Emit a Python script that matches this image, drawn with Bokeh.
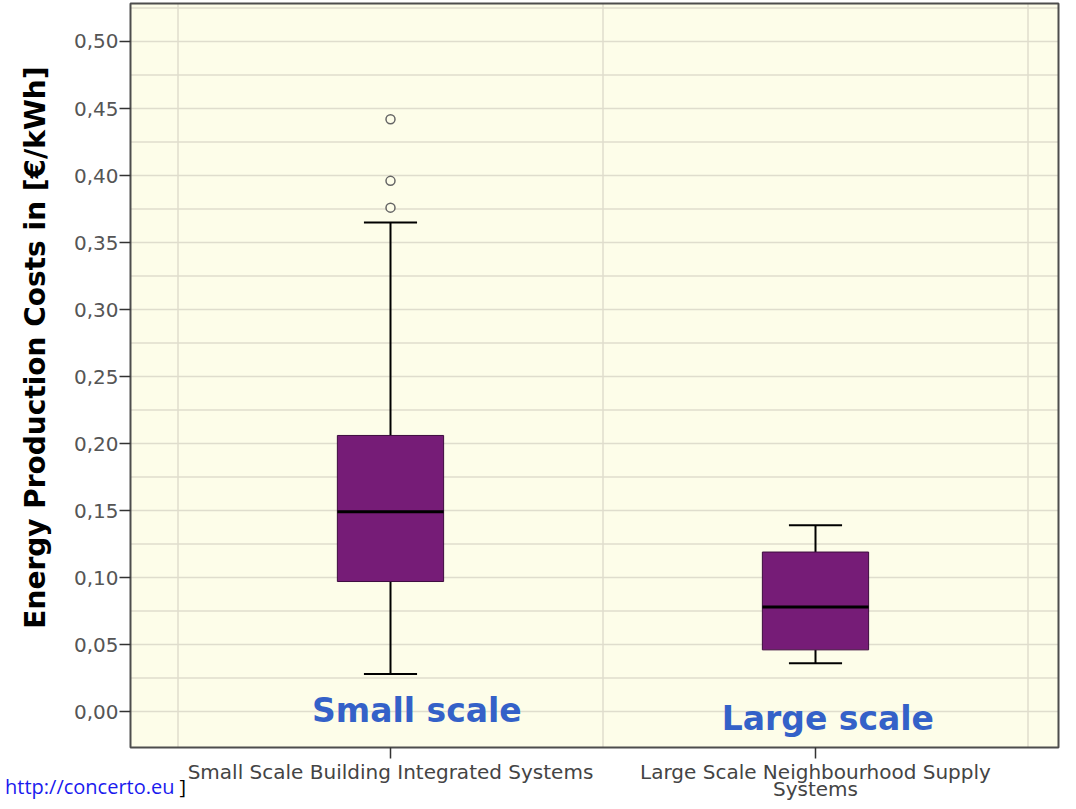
import numpy as np
from bokeh.plotting import figure
from bokeh.models import Range1d, FixedTicker, Label
from bokeh.embed import file_html
from bokeh.resources import INLINE
from math import pi

# ---- data ----
categories = ["Small Scale Building Integrated Systems",
              "Large Scale Neighbourhood Supply Systems"]
cat_line1 = ["Small Scale Building Integrated Systems", "Large Scale Neighbourhood Supply"]
cat_line2 = ["", "Systems"]
cat_pos = [0, 1]
q1 = [0.097, 0.046]
median = [0.149, 0.078]
q3 = [0.206, 0.119]
whisk_low = [0.028, 0.036]
whisk_high = [0.365, 0.139]
outlier_cat = [0, 0, 0]
outlier_val = [0.442, 0.396, 0.376]
y_ticks = [0.0, 0.05, 0.10, 0.15, 0.20, 0.25, 0.30, 0.35, 0.40, 0.45, 0.50]
y_tick_labels = ["0,00", "0,05", "0,10", "0,15", "0,20", "0,25",
                 "0,30", "0,35", "0,40", "0,45", "0,50"]
y_title = "Energy Production Costs in [€/kWh]"
annot_text = ["Small scale", "Large scale"]
annot_x = [0.062, 1.029]
annot_y = [0.0008, -0.0050]
link_text = "http://concerto.eu"
bracket_text = "]"

# ---- layout constants (plot area inside a full-canvas frame) ----
AREA_L, AREA_R = -0.611765, 1.571765
AREA_B, AREA_T = -0.026866, 0.528358
BOX_W = 0.25
CAP_W = 0.125
CREAM = "#fdfde9"
GRID = "#dfddcd"

p = figure(width=1060, height=801,
           x_range=Range1d(-0.917647, 1.576471), y_range=Range1d(-0.067164, 0.530597),
           output_backend="svg", toolbar_location=None,
           min_border_left=0, min_border_right=0, min_border_top=0, min_border_bottom=0)
p.outline_line_color = None
p.background_fill_color = "white"
p.border_fill_color = "white"
p.xgrid.visible = False
p.ygrid.visible = False

# plot area background
p.quad(left=[AREA_L], right=[AREA_R], bottom=[AREA_B], top=[AREA_T],
       fill_color=CREAM, line_color=None)

# grid lines restricted to the plot area
hgrid = list(np.arange(0, 0.526, 0.025))
vgrid = [-0.5, 0.5, 1.5]
p.segment(x0=[AREA_L] * len(hgrid), x1=[AREA_R] * len(hgrid), y0=hgrid, y1=hgrid,
          line_color=GRID, line_width=1.5)
p.segment(x0=vgrid, x1=vgrid, y0=[AREA_B] * 3, y1=[AREA_T] * 3,
          line_color=GRID, line_width=1.5)

# whiskers
p.segment(x0=cat_pos, y0=whisk_low, x1=cat_pos, y1=q1, line_color="black", line_width=2)
p.segment(x0=cat_pos, y0=q3, x1=cat_pos, y1=whisk_high, line_color="black", line_width=2)
p.segment(x0=[c - CAP_W / 2 for c in cat_pos], y0=whisk_high,
          x1=[c + CAP_W / 2 for c in cat_pos], y1=whisk_high, line_color="black", line_width=2)
p.segment(x0=[c - CAP_W / 2 for c in cat_pos], y0=whisk_low,
          x1=[c + CAP_W / 2 for c in cat_pos], y1=whisk_low, line_color="black", line_width=2)

# boxes
p.vbar(x=cat_pos, width=BOX_W, bottom=q1, top=q3,
       fill_color="#761c77", line_color="#3d0c3e", line_width=1)
# medians
p.segment(x0=[c - BOX_W / 2 for c in cat_pos], y0=median,
          x1=[c + BOX_W / 2 for c in cat_pos], y1=median, line_color="black", line_width=3)

# outliers
p.scatter(x=outlier_cat, y=outlier_val, marker="circle", size=9,
          fill_color=CREAM, line_color="#666666", line_width=1.5)

# plot area border
p.quad(left=[AREA_L], right=[AREA_R], bottom=[AREA_B], top=[AREA_T],
       fill_color=None, line_color="#4d4d4d", line_width=2)

# ---- axes, drawn at fixed positions at the plot-area edges ----
ya = p.yaxis[0]
ya.fixed_location = AREA_L
ya.bounds = (AREA_B, AREA_T)
ya.ticker = FixedTicker(ticks=y_ticks)
ya.major_label_overrides = {t: l for t, l in zip(y_ticks, y_tick_labels)}
ya.minor_tick_line_color = None
ya.major_tick_out = 11
ya.major_tick_in = 0
ya.major_tick_line_color = "#333333"
ya.major_tick_line_width = 1.5
ya.axis_line_color = None
ya.major_label_standoff = 1
ya.major_label_text_font = "DejaVu Sans"
ya.major_label_text_font_size = "20px"
ya.major_label_text_color = "#555555"

xa = p.xaxis[0]
xa.fixed_location = AREA_B
xa.bounds = (AREA_L, AREA_R)
xa.ticker = FixedTicker(ticks=cat_pos)
xa.major_label_overrides = {c: l for c, l in zip(cat_pos, cat_line1)}
xa.minor_tick_line_color = None
xa.major_tick_out = 11
xa.major_tick_in = 0
xa.major_tick_line_color = "#333333"
xa.major_tick_line_width = 1.5
xa.axis_line_color = None
xa.major_label_standoff = 1
xa.major_label_text_font = "DejaVu Sans"
xa.major_label_text_font_size = "20px"
xa.major_label_text_color = "#444444"

# second line of the second category label
p.add_layout(Label(x=cat_pos[1], y=-0.0578, text=cat_line2[1], text_align="center",
                   text_baseline="alphabetic", text_font="DejaVu Sans",
                   text_font_size="20px", text_color="#444444"))

# y axis title
p.add_layout(Label(x=-0.8353, y=0.2716, text=y_title, angle=pi / 2,
                   text_align="center", text_baseline="middle",
                   text_font="DejaVu Sans", text_font_style="bold",
                   text_font_size="28px", text_color="black"))

# in-plot annotations
for t, x, y in zip(annot_text, annot_x, annot_y):
    p.add_layout(Label(x=x, y=y, text=t, text_align="center", text_baseline="alphabetic",
                       text_font="DejaVu Sans", text_font_style="bold",
                       text_font_size="33px", text_color="#3461c8"))

# source link at the bottom left
p.add_layout(Label(x=-0.5082, y=-0.0562, text=link_text, text_align="right",
                   text_baseline="alphabetic", text_font="Open Sans",
                   text_font_size="20px", text_color="#1a1aee"))
p.add_layout(Label(x=-0.4965, y=-0.0562, text=bracket_text, text_align="left",
                   text_baseline="alphabetic", text_font="Open Sans",
                   text_font_size="20px", text_color="black"))

open("out.html", "w").write(file_html(p, INLINE))
